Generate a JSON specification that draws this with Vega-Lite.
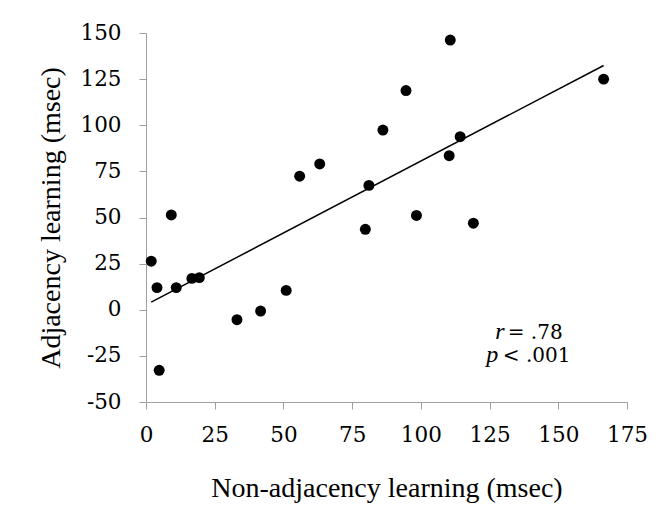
{
  "$schema": "https://vega.github.io/schema/vega-lite/v6.json",
  "width": 481,
  "height": 369,
  "autosize": {"type": "none"},
  "padding": {"left": 146, "top": 33, "right": 36, "bottom": 118},
  "background": "white",
  "config": {
    "view": {"stroke": null},
    "font": "Liberation Serif",
    "axis": {
      "grid": false,
      "domainColor": "#a0a0a0",
      "tickColor": "#a0a0a0",
      "tickSize": 7,
      "labelFont": "DejaVu Serif",
      "labelFontSize": 21.5,
      "labelColor": "black",
      "titleFont": "Liberation Serif",
      "titleFontSize": 28,
      "titleFontWeight": "normal",
      "titleColor": "black"
    }
  },
  "datasets": {
    "points": [
      {"nonadj": 1.9, "adj": 26.3},
      {"nonadj": 4.0, "adj": 12.0},
      {"nonadj": 4.8, "adj": -32.8},
      {"nonadj": 9.2, "adj": 51.4},
      {"nonadj": 11.0, "adj": 12.0},
      {"nonadj": 16.7, "adj": 17.0},
      {"nonadj": 19.4, "adj": 17.4},
      {"nonadj": 33.1, "adj": -5.4},
      {"nonadj": 41.7, "adj": -0.7},
      {"nonadj": 51.0, "adj": 10.5},
      {"nonadj": 55.9, "adj": 72.4},
      {"nonadj": 63.2, "adj": 79.0},
      {"nonadj": 79.8, "adj": 43.6},
      {"nonadj": 81.1, "adj": 67.4},
      {"nonadj": 86.2, "adj": 97.4},
      {"nonadj": 94.6, "adj": 118.8},
      {"nonadj": 98.4, "adj": 51.1},
      {"nonadj": 110.3, "adj": 83.5},
      {"nonadj": 110.7, "adj": 146.2},
      {"nonadj": 114.3, "adj": 93.8},
      {"nonadj": 119.1, "adj": 46.9},
      {"nonadj": 166.5, "adj": 125.0}
    ],
    "fit": [
      {"nonadj": 1.9, "adj": 4.1},
      {"nonadj": 166.5, "adj": 132.4}
    ]
  },
  "layer": [
    {
      "data": {"name": "fit"},
      "mark": {"type": "line", "color": "black", "strokeWidth": 1.5},
      "encoding": {
        "x": {
          "field": "nonadj", "type": "quantitative",
          "scale": {"domain": [0, 175], "nice": false, "zero": false},
          "axis": {
            "values": [0, 25, 50, 75, 100, 125, 150, 175],
            "labelExpr": "'' + datum.value",
            "title": "Non-adjacency learning (msec)",
            "labelPadding": 15,
            "titlePadding": 29,
            "labelFlush": false
          }
        },
        "y": {
          "field": "adj", "type": "quantitative",
          "scale": {"domain": [-50, 150], "nice": false, "zero": false},
          "axis": {
            "values": [-50, -25, 0, 25, 50, 75, 100, 125, 150],
            "labelExpr": "'' + datum.value",
            "title": "Adjacency learning (msec)",
            "labelPadding": 18,
            "titlePadding": 14,
            "labelFlush": false
          }
        }
      }
    },
    {
      "data": {"name": "points"},
      "mark": {"type": "circle", "color": "black", "opacity": 1, "size": 120},
      "encoding": {
        "x": {"field": "nonadj", "type": "quantitative"},
        "y": {"field": "adj", "type": "quantitative"}
      }
    },
    {
      "data": {"values": [{"label": "r"}]},
      "mark": {"type": "text", "align": "right", "baseline": "alphabetic", "fontStyle": "italic", "fontSize": 24, "font": "Liberation Serif", "color": "black"},
      "encoding": {
        "x": {"datum": 130.5, "type": "quantitative"},
        "y": {"datum": -15.6, "type": "quantitative"},
        "text": {"field": "label"}
      }
    },
    {
      "data": {"values": [{"label": "= .78"}]},
      "mark": {"type": "text", "align": "left", "baseline": "alphabetic", "fontSize": 20, "font": "DejaVu Serif", "color": "black"},
      "encoding": {
        "x": {"datum": 131.6, "type": "quantitative"},
        "y": {"datum": -15.6, "type": "quantitative"},
        "text": {"field": "label"}
      }
    },
    {
      "data": {"values": [{"label": "p"}]},
      "mark": {"type": "text", "align": "right", "baseline": "alphabetic", "fontStyle": "italic", "fontSize": 24, "font": "Liberation Serif", "color": "black"},
      "encoding": {
        "x": {"datum": 128.2, "type": "quantitative"},
        "y": {"datum": -28.1, "type": "quantitative"},
        "text": {"field": "label"}
      }
    },
    {
      "data": {"values": [{"label": "< .001"}]},
      "mark": {"type": "text", "align": "left", "baseline": "alphabetic", "fontSize": 20, "font": "DejaVu Serif", "color": "black"},
      "encoding": {
        "x": {"datum": 129.8, "type": "quantitative"},
        "y": {"datum": -28.1, "type": "quantitative"},
        "text": {"field": "label"}
      }
    }
  ]
}
